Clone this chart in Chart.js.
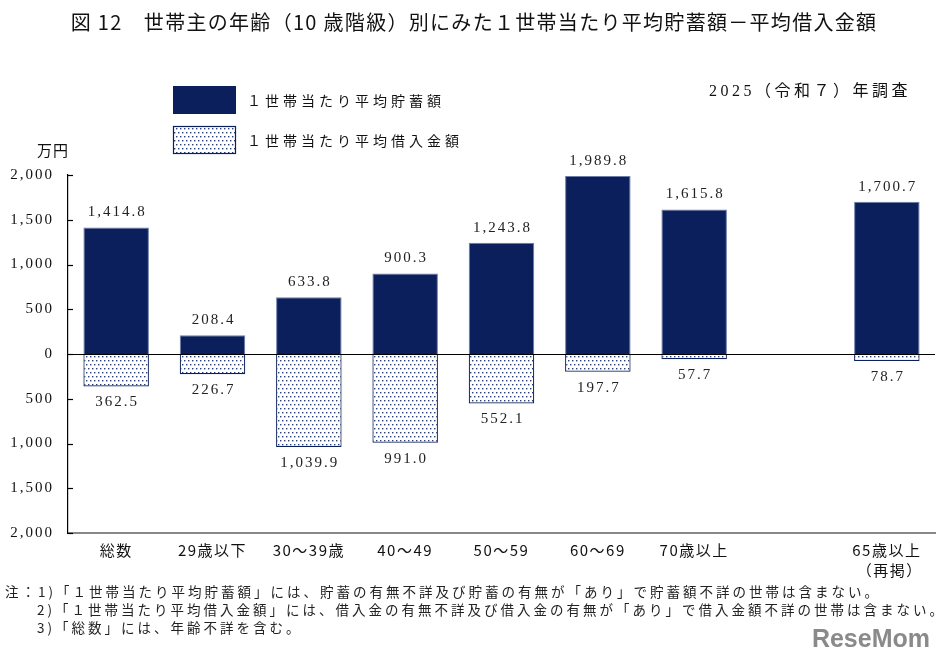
<!DOCTYPE html>
<html><head><meta charset="utf-8">
<script src="https://cdn.jsdelivr.net/npm/chart.js@4.4.1/dist/chart.umd.min.js"></script>
<style>html,body{margin:0;padding:0;background:#fff}#wrap{width:946px;height:663px}</style>
</head><body><div id="wrap"><canvas id="c" width="946" height="663"></canvas></div>
<script>
const categories = ['総数','29歳以下','30～39歳','40～49','50～59','60～69','70歳以上','',['65歳以上','（再掲）']];
const savings = [1414.8, 208.4, 633.8, 900.3, 1243.8, 1989.8, 1615.8, null, 1700.7];
const debt = [362.5, 226.7, 1039.9, 991.0, 552.1, 197.7, 57.7, null, 78.7];
const seriesNames = ['１世帯当たり平均貯蓄額','１世帯当たり平均借入金額'];
const titleText = '図 12　世帯主の年齢（10 歳階級）別にみた１世帯当たり平均貯蓄額－平均借入金額';
const surveyText = '2025（令和７）年調査';
const unitText = '万円';
const notes = [
 '注：1)「１世帯当たり平均貯蓄額」には、貯蓄の有無不詳及び貯蓄の有無が「あり」で貯蓄額不詳の世帯は含まない。',
 '2)「１世帯当たり平均借入金額」には、借入金の有無不詳及び借入金の有無が「あり」で借入金額不詳の世帯は含まない。',
 '3)「総数」には、年齢不詳を含む。'
];

const NAVY = '#0b1f5c';
const FONT = "'Liberation Serif','Noto Sans CJK JP',serif";
const JFONT = "'Noto Sans CJK JP','Liberation Serif',sans-serif";

function makePattern(){
  const p = document.createElement('canvas'); p.width = 4; p.height = 8;
  const g = p.getContext('2d');
  g.fillStyle = '#fff'; g.fillRect(0,0,4,8);
  g.fillStyle = '#2a3f78';
  g.fillRect(0,0,1.4,1.4); g.fillRect(2,4,1.4,1.4);
  return document.getElementById('c').getContext('2d').createPattern(p,'repeat');
}
const dots = makePattern();
const fmt = v => v.toLocaleString('en-US',{minimumFractionDigits:1,maximumFractionDigits:1});
const fmtTick = v => Math.abs(v).toLocaleString('en-US');

const deco = {
  id:'deco',
  beforeDraw(chart){
    const c = chart.ctx; c.save(); c.fillStyle='#fff'; c.fillRect(0,0,chart.width,chart.height); c.restore();
  },
  afterDraw(chart){
    const c = chart.ctx, ca = chart.chartArea, y = chart.scales.y, x = chart.scales.x;
    c.save();
    // title
    c.fillStyle = '#111'; c.textBaseline = 'middle'; c.textAlign = 'center';
    c.font = "20px " + JFONT; c.letterSpacing = '1.3px'; c.fillText(titleText, 474, 22);
    // legend
    c.fillStyle = NAVY; c.fillRect(173,86,63,28);
    c.fillStyle = dots; c.fillRect(173,126,63,28);
    c.strokeStyle = NAVY; c.lineWidth = 1.2; c.strokeRect(173.5,126.5,62,27);
    c.fillStyle = '#111'; c.textAlign = 'left'; c.font = "14px " + JFONT;
    c.letterSpacing = '4px';
    c.fillText(seriesNames[0], 247, 101);
    c.fillText(seriesNames[1], 247, 141);
    c.font = "16px " + FONT; c.letterSpacing = '3.5px';
    c.fillText(surveyText, 709, 92);
    c.letterSpacing = '1px';
    c.font = "15px " + JFONT; c.fillText(unitText, 37, 150);
    // y tick labels
    c.textAlign = 'right'; c.font = "15px " + FONT; c.letterSpacing = '2px';
    for (let v=-2000; v<=2000; v+=500){
      c.fillText(fmtTick(v), 54, y.getPixelForValue(v));
    }
    // x labels
    c.textAlign = 'center'; c.font = "15px " + JFONT; c.letterSpacing = '1.5px';
    categories.forEach((lab,i)=>{
      const px = x.getPixelForValue(i);
      const lines = Array.isArray(lab) ? lab : [lab];
      lines.forEach((t,k)=> c.fillText(t, px + (k? 3:0), 550 + k*20));
    });
    // inward ticks
    c.letterSpacing = '0px';
    c.strokeStyle = '#000'; c.lineWidth = 1.2;
    for (let v=-2000; v<=2000; v+=500){
      const py = Math.round(y.getPixelForValue(v))+0.5;
      c.beginPath(); c.moveTo(ca.left, py); c.lineTo(ca.left+5, py); c.stroke();
    }
    // zero line
    const zy = Math.round(y.getPixelForValue(0))+0.5;
    c.beginPath(); c.moveTo(ca.left, zy); c.lineTo(ca.right, zy); c.stroke();
    // value labels
    c.fillStyle = '#222'; c.font = "15px " + FONT; c.letterSpacing = '2px'; c.textAlign = 'center';
    chart.getDatasetMeta(0).data.forEach((b,i)=>{
      if (savings[i]==null) return;
      c.fillText(fmt(savings[i]), b.x+1, b.y-15);
    });
    chart.getDatasetMeta(1).data.forEach((b,i)=>{
      if (debt[i]==null) return;
      c.fillText(fmt(debt[i]), b.x+1, b.y+16);
    });
    // notes
    c.textAlign = 'left'; c.fillStyle = '#222'; c.font = "13.5px " + JFONT; c.letterSpacing = '3px';
    c.fillText(notes[0], 5, 592);
    c.fillText(notes[1], 37, 610);
    c.fillText(notes[2], 37, 628);
    c.letterSpacing = '0px';
    // logo
    c.fillStyle = '#8a8a8a'; c.font = "bold 25px 'Liberation Sans Narrow','Liberation Sans',sans-serif";
    c.textAlign = 'right'; c.fillText('ReseMom', 930, 640);
    c.restore();
  }
};

new Chart(document.getElementById('c'), {
  type:'bar',
  data:{
    labels: categories,
    datasets:[
      {label:seriesNames[0], data:savings, backgroundColor:NAVY, borderColor:'#6d7da8', borderWidth:1, barPercentage:0.68, categoryPercentage:1},
      {label:seriesNames[1], data:debt.map(v=>v==null?null:-v), backgroundColor:dots, borderColor:NAVY, borderWidth:1.2, barPercentage:0.68, categoryPercentage:1}
    ]
  },
  options:{
    responsive:false, animation:false, devicePixelRatio:1,
    layout:{padding:{top:175, right:11, bottom:80, left:0}},
    plugins:{legend:{display:false}, tooltip:{enabled:false}},
    scales:{
      x:{stacked:true, grid:{display:false}, border:{display:true, color:'#888', width:2},
         ticks:{color:'rgba(0,0,0,0)', font:{family:JFONT, size:14}, padding:8, maxRotation:0, autoSkip:false},
         afterFit(s){ s.height = 50; }},
      y:{stacked:true, min:-2000, max:2000, grid:{display:false, drawTicks:false}, border:{display:true, color:'#000', width:1.2},
         ticks:{stepSize:500, color:'rgba(0,0,0,0)', font:{family:FONT, size:14}, padding:15, callback:v=>fmtTick(v)},
         afterFit(s){ s.width = 68; }}
    }
  },
  plugins:[deco]
});
</script></body></html>
